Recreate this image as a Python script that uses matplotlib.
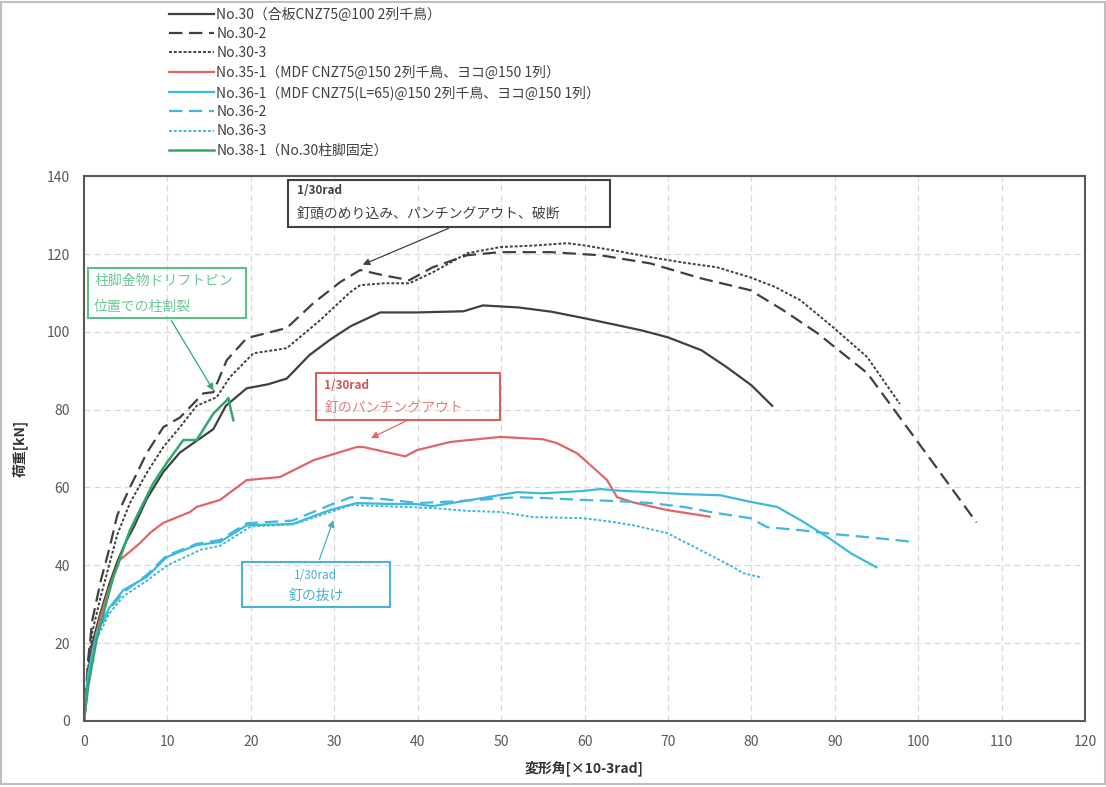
import matplotlib
matplotlib.use("Agg")
import matplotlib.pyplot as plt
from matplotlib.patches import Rectangle

plt.rcParams['font.family'] = ['Noto Sans CJK JP', 'DejaVu Sans']

# data: drift angle [x10-3 rad] / load [kN]
no30_x = [0, 0.5, 1, 2, 3, 4, 5, 6, 7.5, 9.5, 11.5, 13.5, 15.5, 17, 19.5, 22, 24.3, 27, 29.5, 32,
          35.5, 40, 45.5, 47.8, 52, 56, 60, 64, 67, 70, 74, 77, 80, 82.5]
no30_y = [0, 12, 20, 28, 35, 41, 46, 50, 57, 64, 69, 72, 75, 81, 85.5, 86.5, 88, 94, 98, 101.5,
          105, 105, 105.3, 106.8, 106.3, 105.2, 103.5, 101.7, 100.3, 98.6, 95.3, 91, 86.3, 81]

no30_2_x = [0, 0.5, 1, 2, 3, 4, 5.5, 7.5, 9.5, 11.5, 14.3, 15.5, 17.1, 19.5, 21.9, 24.3, 27.5,
            30.7, 33.1, 36, 39, 41.8, 45.9, 49.9, 55.9, 61.9, 67.9, 73.9, 79.9, 83.8, 87.9,
            93.9, 97.8, 101.8, 107]
no30_2_y = [0, 16, 26, 36, 44, 53, 60, 68.8, 75.5, 78, 84.2, 84.5, 92.7, 98.4, 99.7, 101, 107.4,
            112.8, 115.9, 114.5, 113.3, 116.6, 119.7, 120.5, 120.5, 119.7, 117.6, 113.8, 110.7,
            105.6, 99.7, 89.4, 78, 66.3, 51]

no30_3_x = [0, 0.5, 1, 2, 3, 4, 5.5, 7.5, 9.5, 11.5, 13.5, 15.9, 17.5, 20.3, 24.3, 28.3, 31.9,
            33.1, 36, 39, 41.8, 45.9, 49.9, 54, 57.9, 59.8, 63.9, 67.9, 71.9, 75.9, 79.9, 82.9,
            85.9, 89.8, 93.9, 97.8]
no30_3_y = [0, 14, 23, 32, 40, 48, 56, 63.7, 70.4, 75.5, 81, 83.2, 88.4, 94.5, 95.8, 103, 110.2,
            112, 112.5, 112.5, 115.3, 120.2, 121.8, 122.2, 122.8, 122.3, 120.8, 119.2, 117.8,
            116.6, 114, 111.5, 108.1, 101.2, 93.5, 81.5]

no35_1_x = [0, 0.5, 1, 2, 3, 4.3, 5.5, 6.7, 8, 9.5, 12.7, 13.5, 16.3, 19.5, 23.5, 27.5, 32.7,
            33.5, 38.5, 39.9, 43.9, 49.9, 55, 56.7, 59.1, 61, 62.7, 63.9, 65.8, 69.9, 75]
no35_1_y = [0, 10, 18, 27, 34, 41.4, 43.5, 45.7, 48.5, 50.9, 53.7, 55, 56.8, 61.9, 62.7, 67,
            70.4, 70.4, 68, 69.6, 71.7, 73, 72.4, 71.4, 68.8, 65.2, 61.9, 57.5, 56.2, 54.2, 52.5]

no36_1_x = [0, 0.5, 1.5, 3, 4.7, 7.5, 9.9, 13.5, 16.3, 19.5, 25, 29.5, 32.7, 36, 40, 41.8, 47.8,
            51.9, 55, 59.8, 61.9, 64, 67.9, 71.9, 76.3, 79.9, 83.1, 85.9, 89.1, 92, 95]
no36_1_y = [0, 12, 22.6, 29, 33.6, 37, 42.1, 45.2, 46, 50.3, 50.6, 54.2, 56, 55.8, 55.7, 55.2,
            57.3, 58.8, 58.5, 59.1, 59.6, 59.2, 58.8, 58.3, 58, 56.3, 55, 51.6, 47.3, 43, 39.5]

no36_2_x = [0, 0.5, 1.5, 3, 4.7, 7.5, 9.9, 13.5, 16.3, 19.5, 25, 29.5, 32, 36, 40, 45, 51.9,
            55, 59.8, 63.9, 67.9, 71.9, 75.9, 79.9, 81.9, 86, 90, 95, 99.5]
no36_2_y = [0, 12, 22, 28.5, 33, 37.5, 42.5, 45.5, 46.5, 50.8, 51.5, 55.5, 57.5, 57, 56, 56.5,
            57.5, 57.3, 56.8, 56.5, 56, 55, 53.4, 52.1, 49.8, 49, 48, 47, 46]

no36_3_x = [0, 0.5, 1.5, 3, 4.7, 7.5, 10, 14, 16.3, 20, 25, 30, 32, 36, 41.8, 45.9, 49.9, 53.8,
            59.8, 62.9, 65.8, 69.9, 73.9, 77.8, 79, 81.3]
no36_3_y = [0, 11, 21, 27.5, 32, 36, 40, 44, 45, 50, 50.5, 54, 55.5, 55.2, 54.7, 54, 53.7,
            52.4, 52.1, 51.3, 50.3, 48.3, 43.9, 39.6, 38, 36.8]

no38_1_x = [0, 0.5, 1.5, 2.5, 3.5, 5.5, 6.7, 8.3, 9.9, 11.9, 13.5, 15.5, 17.1, 17.3, 17.6, 17.9]
no38_1_y = [0, 9, 20.8, 29, 37, 49, 54.2, 61.1, 66.3, 72.2, 72.2, 79, 82.4, 83, 80, 77.3]

labels = ['No.30（合板CNZ75@100 2列千鳥）', 'No.30-2', 'No.30-3',
          'No.35-1（MDF CNZ75@150 2列千鳥、ヨコ@150 1列）',
          'No.36-1（MDF CNZ75(L=65)@150 2列千鳥、ヨコ@150 1列）',
          'No.36-2', 'No.36-3', 'No.38-1（No.30柱脚固定）']

black = '#404040'
red = '#e06666'
cyan = '#3db8e0'
green = '#2fa86a'
gray = '#595959'

fig = plt.figure(figsize=(11.06, 7.87), dpi=100)
ax = fig.add_axes([0.076, 0.084, 0.905, 0.692])

ax.plot(no30_x, no30_y, color=black, lw=1.6, label=labels[0])
ax.plot(no30_2_x, no30_2_y, color=black, lw=1.6, dashes=(6, 3), label=labels[1])
ax.plot(no30_3_x, no30_3_y, color=black, lw=1.4, dashes=(1.5, 1), label=labels[2])
ax.plot(no35_1_x, no35_1_y, color=red, lw=1.6, label=labels[3])
ax.plot(no36_1_x, no36_1_y, color=cyan, lw=1.6, label=labels[4])
ax.plot(no36_2_x, no36_2_y, color=cyan, lw=1.6, dashes=(6, 3), label=labels[5])
ax.plot(no36_3_x, no36_3_y, color=cyan, lw=1.4, dashes=(1.5, 1), label=labels[6])
ax.plot(no38_1_x, no38_1_y, color=green, lw=1.8, label=labels[7])

ax.set_xlim(0, 120)
ax.set_ylim(0, 140)
ax.set_xticks(range(0, 121, 10))
ax.set_yticks(range(0, 141, 20))
ax.grid(True, color='#d9d9d9', linestyle=(0, (5, 3)), lw=0.9)
ax.set_axisbelow(True)
ax.tick_params(length=0, labelsize=10, labelcolor=gray, pad=10)
for s in ax.spines.values():
    s.set_color(gray)
    s.set_linewidth(1.5)

ax.set_xlabel('変形角[×10-3rad]', fontsize=10, fontweight='bold', color='#333333', labelpad=8)
ax.set_ylabel('荷重[kN]', fontsize=10, fontweight='bold', color='#333333', labelpad=14)


# arrow from a note box to the curve
def arrow(tip, start, color):
    ax.annotate('', xy=tip, xytext=start,
                arrowprops=dict(arrowstyle='-|>', color=color, lw=0.9, mutation_scale=10))


ax.text(25.5, 136.3, '1/30rad', fontsize=8.5, color='#404040', va='center', fontweight='bold')
ax.text(25.5, 130.3, '釘頭のめり込み、パンチングアウト、破断', fontsize=10, color='#404040', va='center')
ax.add_patch(Rectangle((24.5, 126.9), 38.6, 12.1, fill=False, ec='#404040', lw=1.5, clip_on=False))
arrow((33.1, 117), (44, 126.9), '#404040')

ax.text(1.2, 113, '柱脚金物ドリフトピン', fontsize=10, color='#6cc896', va='center')
ax.text(1.2, 106.5, '位置での柱割裂', fontsize=10, color='#6cc896', va='center')
ax.add_patch(Rectangle((0.5, 103.5), 18.9, 12.9, fill=False, ec='#5cbf88', lw=1.5))
arrow((15.7, 84.3), (10.3, 103.5), green)

ax.text(28.8, 86.3, '1/30rad', fontsize=8.5, color='#d05858', va='center', fontweight='bold')
ax.text(28.8, 80.5, '釘のパンチングアウト', fontsize=10, color='#e08080', va='center')
ax.add_patch(Rectangle((27.8, 77.3), 22.1, 12.1, fill=False, ec='#d86060', lw=1.5))
arrow((34.1, 72.4), (38.8, 77.3), red)

ax.text(27.8, 37.3, '1/30rad', fontsize=8.5, color='#4aaed0', ha='center', va='center')
ax.text(27.8, 32, '釘の抜け', fontsize=10, color='#4aaed0', ha='center', va='center')
ax.add_patch(Rectangle((18.9, 29.3), 17.8, 11.5, fill=False, ec='#4ab4d8', lw=1.5))
arrow((30.0, 52.3), (28.1, 40.8), '#4aaed0')

fig.legend(loc='upper left', bbox_to_anchor=(0.146, 1.0), frameon=False, fontsize=10,
           handlelength=3.2, handletextpad=0.2, labelspacing=0.38, borderaxespad=0.15,
           labelcolor='#404040')

fig.patches.append(Rectangle((0.001, 0.004), 0.998, 0.993, transform=fig.transFigure,
                             fill=False, ec='#bfbfbf', lw=1.5))

fig.savefig('out.png', dpi=100)
